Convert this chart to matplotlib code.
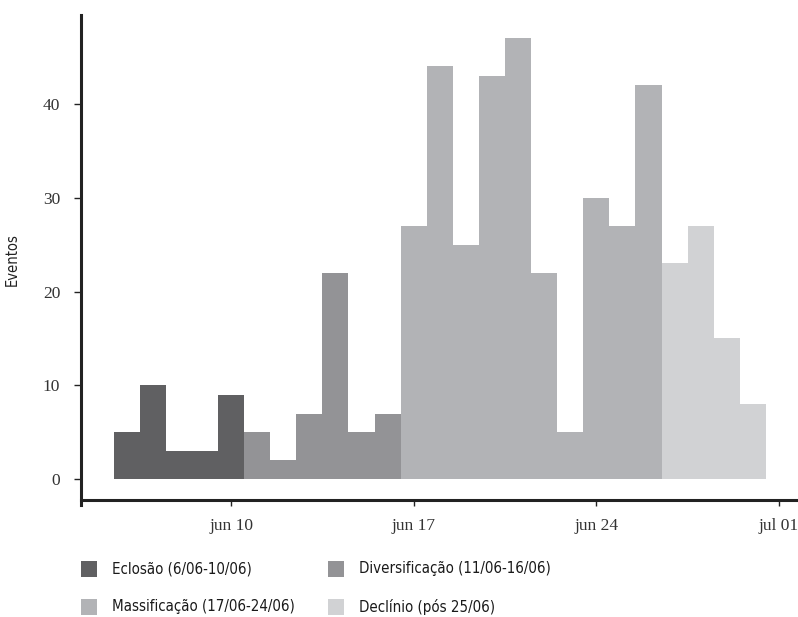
import datetime as dt
import matplotlib
matplotlib.use("Agg")
import matplotlib.pyplot as plt
import matplotlib.dates as mdates
from matplotlib.patches import Rectangle

# eventos por dia, separados por fase
fases = ["Eclosão (6/06-10/06)", "Diversificação (11/06-16/06)",
         "Massificação (17/06-24/06)", "Declínio (pós 25/06)"]
cores = ["#606062", "#939396", "#b2b3b6", "#d1d2d4"]

dias_eclosao = [6, 7, 8, 9, 10]
ev_eclosao = [5, 10, 3, 3, 9]
dias_divers = [11, 12, 13, 14, 15, 16]
ev_divers = [5, 2, 7, 22, 5, 7]
dias_massif = [17, 18, 19, 20, 21, 22, 23, 24, 25, 26]
ev_massif = [27, 44, 25, 43, 47, 22, 5, 30, 27, 42]
dias_declinio = [27, 28, 29, 30]
ev_declinio = [23, 27, 15, 8]

ticks_datas = [dt.date(2013, 6, 10), dt.date(2013, 6, 17),
               dt.date(2013, 6, 24), dt.date(2013, 7, 1)]
ticks_labels = ["jun 10", "jun 17", "jun 24", "jul 01"]
yticks = [0, 10, 20, 30, 40]

serif = ["Liberation Serif", "DejaVu Serif"]
narrow = ["Liberation Sans Narrow", "DejaVu Sans"]

W, H = 798, 617
fig = plt.figure(figsize=(W / 100, H / 100), dpi=100)
ax = fig.add_axes([81 / W, 112 / H, 716 / W, 490 / H])

grupos = [(dias_eclosao, ev_eclosao), (dias_divers, ev_divers),
          (dias_massif, ev_massif), (dias_declinio, ev_declinio)]
for (dias, ev), cor in zip(grupos, cores):
    datas = [dt.date(2013, 6, d) for d in dias]
    ax.bar(datas, ev, width=1.0, color=cor, linewidth=0)

ax.set_xlim(mdates.date2num(dt.date(2013, 6, 10)) - 5.75,
            mdates.date2num(dt.date(2013, 7, 1)) + 0.69)
ax.set_ylim(-2.75, 49.47)

ax.spines["top"].set_visible(False)
ax.spines["right"].set_visible(False)
for s in ("left", "bottom"):
    ax.spines[s].set_linewidth(2.2)
    ax.spines[s].set_color("#222222")
ax.spines["bottom"].set_position(("data", -2.19))

ax.set_xticks(ticks_datas)
ax.set_xticklabels(ticks_labels, fontfamily=serif, fontsize=12.5, color="#333333")
ax.set_yticks(yticks)
ax.set_yticklabels([str(v) for v in yticks], fontfamily=serif, fontsize=12.5,
                   color="#333333")
ax.tick_params(axis="x", length=4, width=1, color="#222222", pad=9)
ax.tick_params(axis="y", length=5, width=1, color="#222222", pad=10)

ax.set_ylabel("Eventos", fontfamily=narrow, fontstretch="condensed",
              fontsize=10.5, color="#222222", labelpad=0)
ax.yaxis.set_label_coords(-0.085, 0.5)

# legenda em duas colunas, desenhada a mao
pos_x = [81, 328]
pos_y = [569, 607]
for i, (nome, cor) in enumerate(zip(fases, cores)):
    x0 = pos_x[i % 2]
    y0 = pos_y[i // 2]
    fig.patches.append(Rectangle((x0 / W, 1 - (y0 + 8) / H), 16 / W, 16 / H,
                                 transform=fig.transFigure, facecolor=cor,
                                 edgecolor="none"))
    fig.text((x0 + 31) / W, 1 - y0 / H, nome, fontfamily=narrow,
             fontstretch="condensed", fontsize=10.8, color="#1a1a1a",
             va="center", ha="left")

fig.savefig("out.png", dpi=100)
